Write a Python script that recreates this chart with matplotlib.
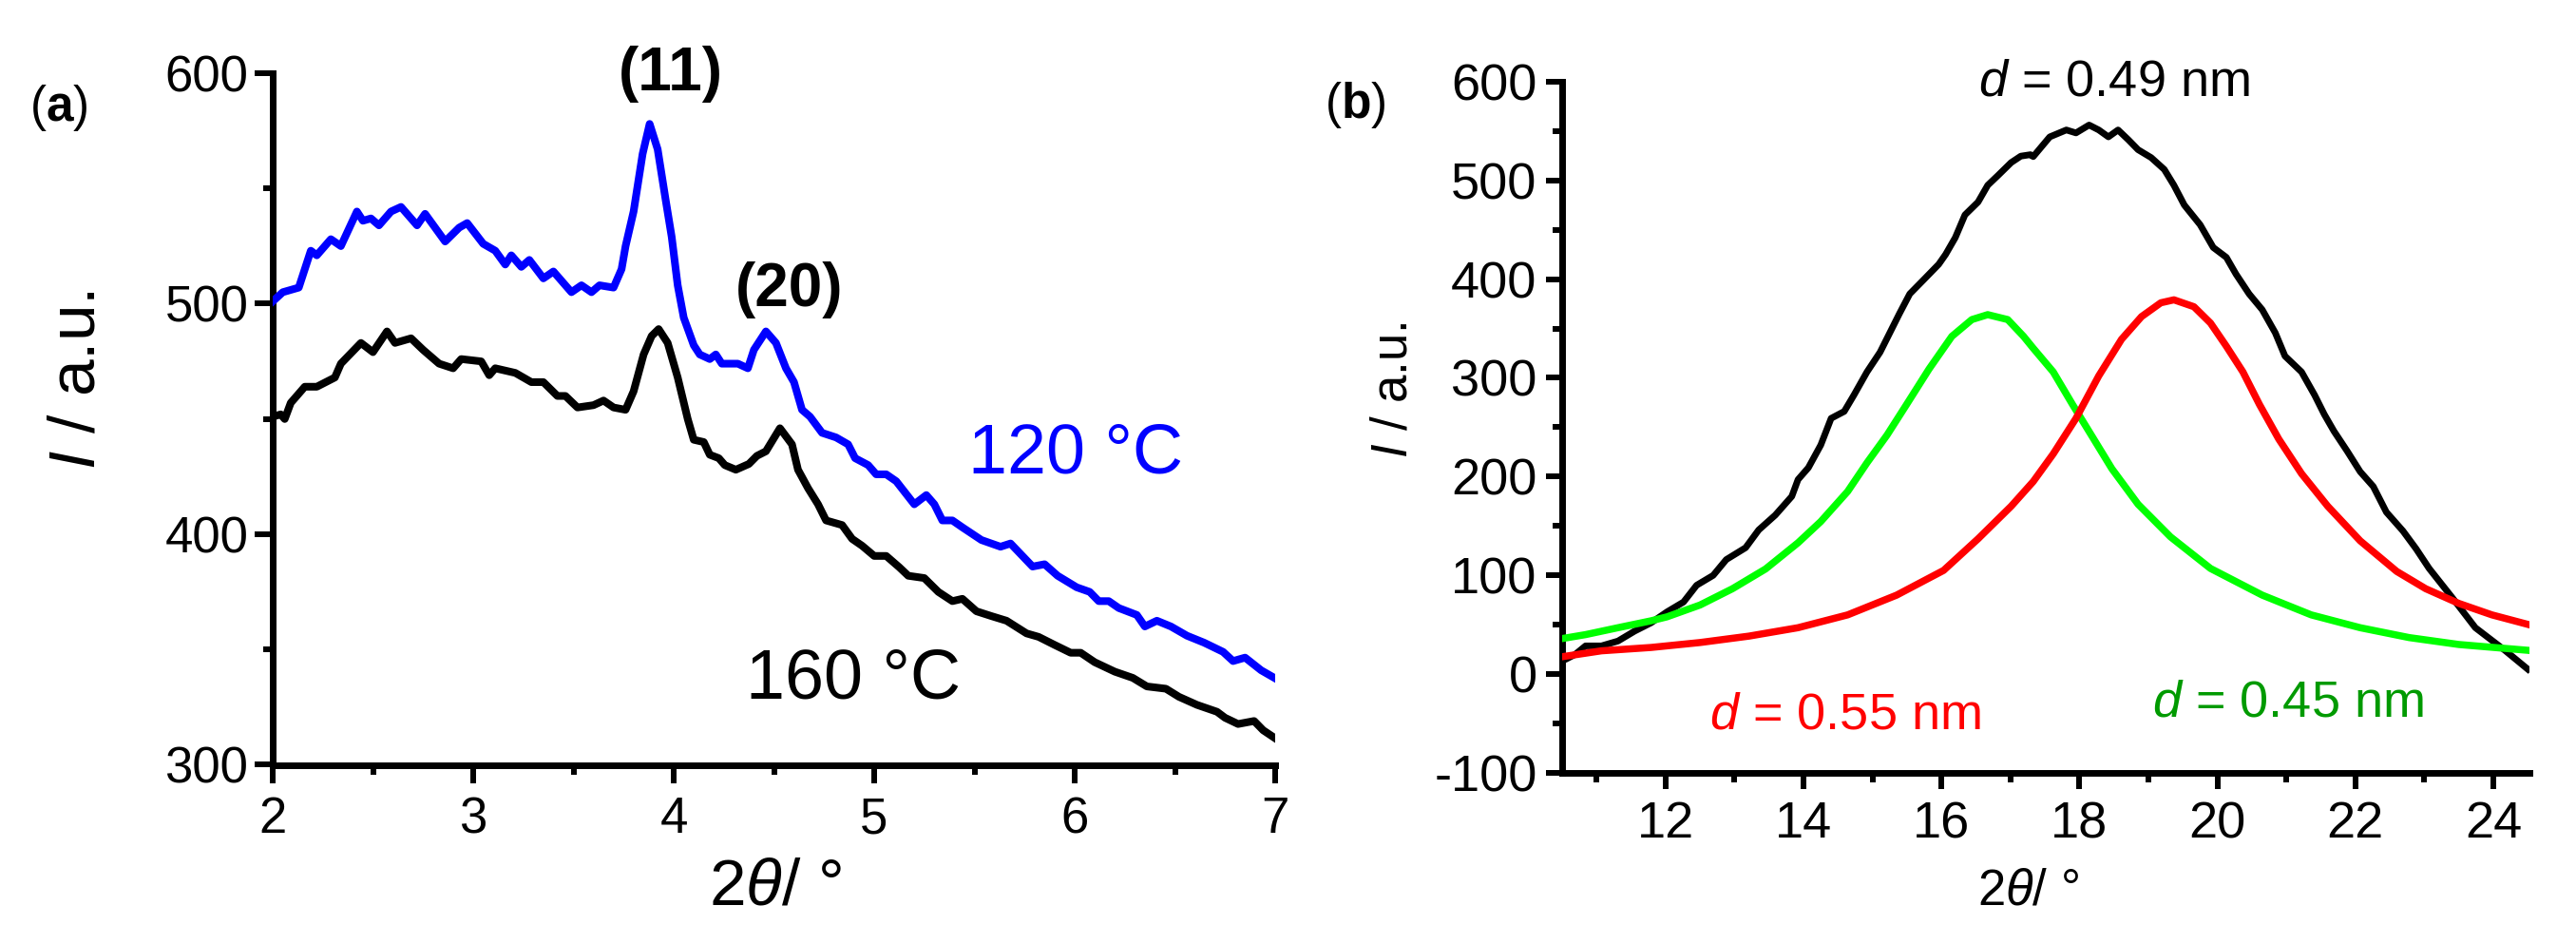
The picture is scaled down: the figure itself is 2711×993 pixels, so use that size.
import matplotlib
matplotlib.use("Agg")
import matplotlib.pyplot as plt
from matplotlib.ticker import MultipleLocator

plt.rcParams['font.family'] = ['Liberation Sans', 'DejaVu Sans']
plt.rcParams['mathtext.fontset'] = 'custom'
plt.rcParams['mathtext.rm'] = 'Liberation Sans'
plt.rcParams['mathtext.it'] = 'Liberation Sans:italic'
plt.rcParams['mathtext.bf'] = 'Liberation Sans:bold'
plt.rcParams['axes.unicode_minus'] = False

# ---------------- Panel (a) data ----------------
a_x_120 = [2.00, 2.05, 2.13, 2.19, 2.22, 2.29, 2.34, 2.42, 2.45, 2.49, 2.53, 2.59, 2.64,
           2.72, 2.76, 2.86, 2.93, 2.97, 3.05, 3.11, 3.16, 3.19, 3.24, 3.28, 3.35, 3.40,
           3.49, 3.54, 3.59, 3.63, 3.70, 3.74, 3.76, 3.80, 3.845, 3.88, 3.92, 3.96, 3.99,
           4.02, 4.05, 4.10, 4.13, 4.18, 4.21, 4.24, 4.32, 4.37, 4.40, 4.46, 4.51, 4.56,
           4.60, 4.64, 4.68, 4.74, 4.81, 4.87, 4.905, 4.97, 5.01, 5.06, 5.11, 5.20, 5.26,
           5.30, 5.34, 5.39, 5.44, 5.535, 5.63, 5.68, 5.79, 5.85, 5.915, 6.01, 6.075, 6.12,
           6.17, 6.22, 6.31, 6.35, 6.41, 6.48, 6.56, 6.645, 6.74, 6.79, 6.85, 6.93, 7.00]
a_y_120 = [501, 505, 507, 523, 521, 528, 525, 540, 536, 537, 534, 540, 542,
           534, 539, 527, 533, 535, 526, 523, 517, 521, 516, 519, 511, 514,
           505, 508, 505, 508, 507, 515, 525, 540, 565, 578, 567, 545, 529,
           508, 494, 482, 478, 476, 478, 474, 474, 472, 480, 488, 483, 472,
           466, 454, 451, 444, 442, 439, 433, 430, 426, 426, 423, 413, 417,
           413, 406, 406, 403, 397.5, 394.6, 396, 386, 387, 382, 377, 375, 371,
           371, 368, 365, 360, 362.5, 360, 356, 353, 349, 345, 346.5, 341, 337.5]

a_x_160 = [2.00, 2.04, 2.06, 2.09, 2.16, 2.22, 2.31, 2.34, 2.44, 2.50, 2.57, 2.61, 2.69,
           2.75, 2.83, 2.90, 2.94, 3.04, 3.08, 3.11, 3.21, 3.29, 3.35, 3.42, 3.46, 3.52,
           3.60, 3.65, 3.70, 3.76, 3.80, 3.85, 3.89, 3.925, 3.97, 4.02, 4.07, 4.10, 4.15,
           4.18, 4.225, 4.255, 4.31, 4.375, 4.415, 4.46, 4.53, 4.59, 4.62, 4.67, 4.72, 4.76,
           4.84, 4.89, 4.94, 5.00, 5.06, 5.125, 5.17, 5.25, 5.32, 5.39, 5.44, 5.51, 5.585,
           5.66, 5.76, 5.82, 5.90, 5.98, 6.03, 6.10, 6.20, 6.29, 6.36, 6.455, 6.52, 6.61,
           6.71, 6.75, 6.815, 6.895, 6.94, 7.00]
a_y_160 = [451, 452, 450, 457, 464, 464, 468, 474, 483, 479, 488, 483, 485,
           480, 474, 472, 476, 475, 469, 472, 470, 466, 466, 460, 460, 455,
           456, 458, 455, 454, 462, 478, 486, 489, 483, 468, 450, 441, 440,
           434.5, 433, 430, 428, 430.5, 434, 436, 446, 439, 428, 420, 413, 406,
           404, 398, 395, 390.6, 390.6, 385.7, 382, 381, 375, 371, 372, 366.6, 364.5,
           362.5, 357, 355.5, 352, 348.6, 348.6, 344.5, 340.4, 337.7, 334, 333, 329.5, 326,
           323, 320.4, 317.7, 319, 315, 311.5]

a_xticks = [2, 3, 4, 5, 6, 7]
a_yticks = [300, 400, 500, 600]

# ---------------- Panel (b) data ----------------
b_x_total = [10.50, 10.55, 10.69, 10.84, 11.07, 11.31, 11.55, 11.79, 12.02, 12.26, 12.45,
             12.69, 12.88, 13.16, 13.35, 13.59, 13.83, 13.92, 14.07, 14.25, 14.40, 14.59,
             14.73, 14.92, 15.11, 15.25, 15.39, 15.54, 15.73, 15.96, 16.06, 16.20, 16.34,
             16.53, 16.67, 16.82, 17.01, 17.15, 17.29, 17.33, 17.57, 17.81, 17.95, 18.14,
             18.28, 18.42, 18.56, 18.71, 18.85, 19.04, 19.23, 19.37, 19.52, 19.75, 19.94,
             20.13, 20.27, 20.46, 20.65, 20.84, 20.98, 21.22, 21.41, 21.55, 21.69, 21.88,
             22.07, 22.26, 22.45, 22.69, 22.88, 23.07, 23.41, 23.74, 24.17, 24.50]
b_y_total = [14, 15, 20, 28.6, 28.6, 33.5, 43.5, 52, 63, 73, 90,
             100, 116, 128, 146, 161, 180, 197, 209, 232, 259, 266,
             282.5, 306, 326, 345.5, 365, 385, 398.5, 415, 425, 442, 465,
             478, 495, 505, 518, 524.5, 526, 524, 544, 551, 548, 556,
             551, 544, 551, 541, 531, 523, 511, 495, 475, 455, 432,
             422, 405, 385, 369, 345.5, 322, 306, 282.5, 263, 246, 226,
             205, 190, 164, 145, 127, 107, 77, 47, 24, 5]

b_x_045 = [10.50, 10.84, 11.31, 11.79, 12.02, 12.50, 12.97, 13.45, 13.92, 14.25, 14.64,
           14.92, 15.21, 15.49, 15.82, 16.15, 16.44, 16.67, 16.96, 17.19, 17.33, 17.62,
           17.90, 18.19, 18.47, 18.85, 19.32, 19.90, 20.65, 21.36, 22.07, 22.78, 23.50, 24.52]
b_y_045 = [36, 40, 47, 54, 58, 70, 86.5, 106.5, 133, 154.5, 185,
           214, 242, 272.6, 309, 342, 359, 364, 359, 342, 330, 306,
           273, 240, 208, 172, 139, 107, 80, 60, 47, 37, 30, 24]

b_x_055 = [10.50, 11.07, 11.79, 12.50, 13.21, 13.92, 14.64, 15.35, 16.03, 16.53, 17.01,
           17.33, 17.62, 17.95, 18.28, 18.61, 18.90, 19.18, 19.37, 19.66, 19.90, 20.13,
           20.37, 20.61, 20.89, 21.22, 21.60, 22.07, 22.60, 23.02, 23.50, 23.98, 24.52]
b_y_055 = [17.6, 23.6, 27, 32, 38.5, 47, 60, 80, 105, 137, 170,
           195, 223, 259, 302, 339, 362, 376, 379, 372, 355.5, 332,
           306, 273, 238, 203, 170, 135, 104, 86.5, 71.6, 60, 50]

b_xticks = [12, 14, 16, 18, 20, 22, 24]
b_yticks = [-100, 0, 100, 200, 300, 400, 500, 600]

W, H = 2711, 993
fig = plt.figure(figsize=(W / 100, H / 100), dpi=100)

def frac(x0, y0, x1, y1):
    return [x0 / W, 1 - y1 / H, (x1 - x0) / W, (y1 - y0) / H]

axa = fig.add_axes(frac(287, 77, 1342, 804.5))
axb = fig.add_axes(frac(1644, 85.8, 2661.7, 813))

# ---- panel a
axa.plot(a_x_120, a_y_120, color='#0000ff', lw=5.8, solid_joinstyle='round', zorder=3)
axa.plot(a_x_160, a_y_160, color='black', lw=5.8, solid_joinstyle='round', zorder=3)
axa.set_xlim(2, 7)
axa.set_ylim(300, 600)
axa.set_xticks(a_xticks)
axa.set_yticks(a_yticks)
axa.xaxis.set_minor_locator(MultipleLocator(0.5))
axa.yaxis.set_minor_locator(MultipleLocator(50))
axa.tick_params(which='major', direction='out', length=13.5, width=4.3, labelsize=38)
axa.tick_params(which='minor', direction='out', length=7, width=4.3)
axa.tick_params(axis='x', which='major', pad=10)
axa.tick_params(axis='y', which='major', pad=5)

axa.text(3.986, 592.6, '(11)', fontsize=46, fontweight='bold', ha='center', va='baseline')
axa.text(4.578, 499, '(20)', fontsize=46, fontweight='bold', ha='center', va='baseline')
axa.text(6.005, 426.8, '120 °C', fontsize=53, color='#0000ff', ha='center', va='baseline')
axa.text(4.896, 329, '160 °C', fontsize=53, color='black', ha='center', va='baseline')

# ---- panel b
axb.plot(b_x_total, b_y_total, color='black', lw=5, solid_joinstyle='round', zorder=3)
axb.plot(b_x_045, b_y_045, color='#00ff00', lw=5.4, solid_joinstyle='round', zorder=3)
axb.plot(b_x_055, b_y_055, color='#ff0000', lw=5.4, solid_joinstyle='round', zorder=3)
axb.set_xlim(10.5, 24.52)
axb.set_ylim(-100, 600)
axb.set_xticks(b_xticks)
axb.set_yticks(b_yticks)
axb.xaxis.set_minor_locator(MultipleLocator(1))
axb.yaxis.set_minor_locator(MultipleLocator(50))
axb.tick_params(which='major', direction='out', length=12, width=4.3, labelsize=39)
axb.tick_params(which='minor', direction='out', length=7, width=4.3)
axb.tick_params(axis='x', which='major', pad=9)
axb.tick_params(axis='y', which='major', pad=7)

axb.text(18.50, 585.8, r'$\mathit{d}$ = 0.49 nm', fontsize=39, color='black',
         ha='center', va='baseline')
axb.text(14.60, -55.6, r'$\mathit{d}$ = 0.55 nm', fontsize=39, color='#ff0000',
         ha='center', va='baseline')
axb.text(21.03, -43.1, r'$\mathit{d}$ = 0.45 nm', fontsize=39, color='#009a00',
         ha='center', va='baseline')

for ax in (axa, axb):
    ax.spines['top'].set_visible(False)
    ax.spines['right'].set_visible(False)
    ax.spines['left'].set_linewidth(5)
    ax.spines['bottom'].set_linewidth(5)
    ax.patch.set_alpha(0)

# axis labels and panel letters
fig.text(82 / W, 1 - 400 / H, r'$\mathit{I}$ / a.u.', fontsize=50, rotation=90,
         ha='center', va='center')
fig.text(816 / W, 1 - 952 / H, r'2$\mathit{\theta}$/ °', fontsize=50,
         ha='center', va='baseline')
fig.text(1467 / W, 1 - 410 / H, r'$\mathit{I}$ / a.u.', fontsize=38, rotation=90,
         ha='center', va='center')
fig.text(2135 / W, 1 - 952 / H, r'2$\mathit{\theta}$/ °', fontsize=38,
         ha='center', va='baseline')
fig.text(62 / W, 1 - 127 / H, r'($\mathbf{a}$)', fontsize=37, ha='center', va='baseline')
fig.text(1426 / W, 1 - 124 / H, r'($\mathbf{b}$)', fontsize=37, ha='center', va='baseline')

fig.savefig('out.png', dpi=100)
